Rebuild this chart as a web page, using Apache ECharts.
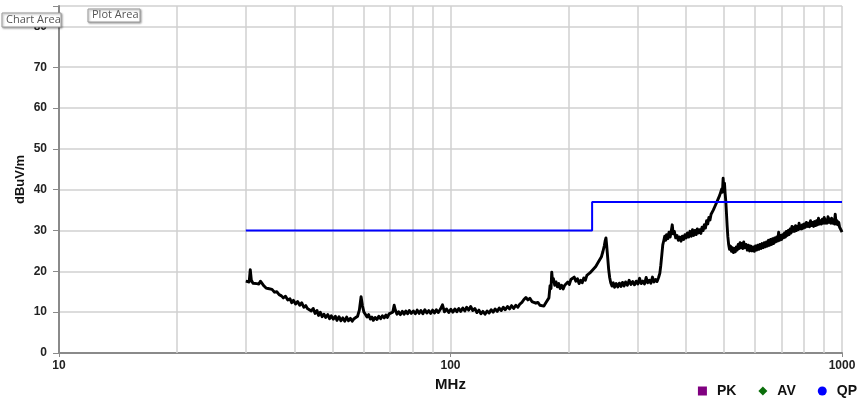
<!DOCTYPE html>
<html>
<head>
<meta charset="utf-8">
<script src="https://cdn.jsdelivr.net/npm/echarts@6/dist/echarts.min.js"></script>
<style>html,body{margin:0;padding:0;background:#fff}#c{width:866px;height:402px}</style>
</head>
<body>
<div id="c"></div>
<script>
// ---- data ----
const xTicks = [10, 100, 1000];
const minorGrid = [20,30,40,50,60,70,80,90,200,300,400,500,600,700,800,900];
const yTicks = [0,10,20,30,40,50,60,70,80];
const limitFreq = [30, 230, 230, 1000];
const limitLevel = [30, 30, 37, 37];
const traceFreq = [
30.0,30.3,30.6,30.8,31.0,31.3,31.6,32.0,32.4,32.7,33.0,33.4,33.8,34.2,34.6,35.0,35.5,36.0,36.5,37.0,
37.4,37.9,38.4,38.9,39.3,39.7,40.2,40.7,41.2,41.7,42.2,42.7,43.1,43.6,44.1,44.6,45.1,45.6,46.0,46.5,
47.0,47.5,48.0,48.6,49.1,49.6,50.2,50.8,51.3,51.9,52.5,53.1,53.7,54.3,54.9,55.5,56.1,56.7,57.3,57.9,
58.5,59.1,59.6,60.1,60.6,61.2,61.8,62.4,63.0,63.5,64.2,64.9,65.6,66.3,67.0,67.7,68.4,69.0,69.7,70.4,
71.2,71.8,72.3,73.0,73.7,74.5,75.3,76.1,76.9,77.7,78.5,79.4,80.4,81.3,82.2,83.1,84.0,85.0,86.0,87.0,
88.0,89.0,90.0,91.0,92.0,93.0,94.2,95.4,96.5,97.7,99.0,100.2,101.4,102.6,103.8,105.0,106.2,107.5,108.8,110.0,
111.3,112.6,114.0,115.4,116.8,118.2,119.6,121.0,122.5,124.0,125.5,127.0,128.5,130.0,131.6,133.2,134.8,136.4,138.0,139.8,
141.5,143.2,145.0,146.8,148.6,150.4,152.2,154.0,155.8,157.6,159.5,161.4,163.3,165.2,167.2,169.2,171.2,173.2,175.2,177.2,
178.4,179.6,180.6,181.4,182.2,183.2,184.6,186.0,187.5,189.0,190.6,192.2,194.0,195.8,197.6,199.4,201.2,203.0,205.0,207.0,
209.0,211.0,213.0,215.0,217.0,219.0,221.0,223.0,225.0,227.0,229.0,231.0,233.0,235.0,237.0,239.0,241.0,243.0,245.0,247.0,
248.5,249.5,250.5,252.0,253.5,255.0,256.6,258.5,260.5,262.5,265.0,267.5,270.0,272.5,275.0,277.5,280.0,283.0,286.0,289.0,
292.0,295.0,298.0,301.0,304.0,307.0,310.0,313.0,316.0,319.0,322.0,325.0,328.0,331.0,334.0,337.0,340.0,342.5,344.5,346.5,
348.5,350.5,352.5,354.5,356.5,359.0,361.5,364.0,366.5,368.5,370.5,373.0,376.0,379.0,382.0,385.0,388.0,391.0,394.0,397.0,
400.0,403.0,406.0,409.0,412.0,415.0,418.0,421.0,424.0,427.0,430.0,433.0,436.0,439.0,442.0,445.0,448.0,451.0,454.0,457.0,
460.0,463.0,466.0,469.0,472.0,475.0,478.0,481.0,484.0,487.0,490.0,493.0,495.0,497.0,499.0,501.0,503.0,505.0,507.0,509.0,
511.0,513.5,516.0,519.0,522.0,525.0,528.0,531.0,534.0,537.0,540.0,543.0,546.0,549.0,552.0,555.0,558.0,561.0,565.0,569.0,
573.0,577.0,581.0,585.0,589.0,593.0,597.0,601.0,605.0,609.0,613.0,617.0,621.0,625.0,629.0,633.0,637.0,641.0,645.0,649.0,
653.0,657.0,661.0,665.0,669.0,673.0,677.0,681.0,685.0,689.0,693.0,697.0,701.0,705.0,709.0,713.0,717.0,721.0,725.0,729.0,
733.0,737.0,741.0,745.0,749.0,753.0,757.0,761.0,765.0,769.0,773.0,777.0,781.0,785.0,789.0,793.0,797.0,801.0,806.0,811.0,
816.0,821.0,826.0,831.0,836.0,841.0,846.0,851.0,856.0,861.0,866.0,871.0,876.0,881.0,886.0,891.0,896.0,901.0,906.0,911.0,
916.0,921.0,926.0,931.0,936.0,941.0,946.0,951.0,956.0,961.0,966.0,971.0,976.0,981.0,986.0,991.0,996.0,1000.0
];
const traceLevel = [
17.6,17.9,17.4,20.4,17.8,17.1,16.8,17.0,16.9,17.6,17.2,16.4,15.9,15.8,15.4,15.6,14.9,15.0,14.3,14.0,
13.5,13.9,13.0,13.3,12.3,12.9,12.0,12.6,11.7,12.3,11.2,11.6,10.9,11.3,10.3,10.9,9.7,10.4,9.2,10.0,
8.9,9.5,8.7,9.4,8.4,9.1,8.3,9.0,8.0,8.9,7.9,8.6,7.8,8.8,7.9,8.5,7.8,8.4,8.2,9.0,
10.5,13.8,11.5,10.0,9.5,8.8,9.4,8.3,8.8,8.0,8.7,8.2,9.0,8.4,9.1,8.6,9.3,8.7,9.6,9.2,
10.0,11.7,10.5,9.5,10.1,9.4,10.2,9.5,10.3,9.6,10.4,9.7,10.3,9.6,10.5,9.7,10.4,9.6,10.6,9.8,
10.4,9.7,10.5,9.8,10.6,9.9,10.7,11.8,10.1,10.8,9.9,10.7,10.0,10.8,10.1,10.9,10.2,11.0,10.3,11.2,
10.5,11.4,10.4,10.9,9.9,10.5,9.6,10.2,9.5,10.3,9.8,10.6,10.0,10.8,10.2,11.0,10.4,11.2,10.6,11.4,
10.8,11.6,10.9,11.7,11.2,12.0,12.4,13.1,13.6,13.0,13.4,12.6,13.0,12.2,12.4,11.7,12.1,11.5,12.3,12.6,
13.5,16.5,15.8,19.8,17.6,18.2,16.6,17.4,16.2,17.0,15.8,16.6,15.7,16.6,16.2,17.4,16.8,18.0,17.6,18.6,
17.6,18.2,17.0,17.8,17.2,18.4,17.8,19.0,18.6,19.6,19.2,20.4,20.0,21.2,21.0,22.4,22.2,23.6,24.8,26.2,
27.6,28.2,26.5,23.5,20.5,18.5,17.2,16.4,17.2,16.1,17.0,16.2,17.1,16.3,17.3,16.4,17.4,16.6,17.8,16.8,
17.5,16.7,17.6,16.9,18.3,17.0,17.6,16.9,18.5,17.2,17.8,17.1,18.6,17.4,18.0,17.5,18.5,19.5,21.5,24.0,
26.5,27.5,28.6,27.6,29.0,28.0,29.6,28.4,30.0,31.4,29.2,29.8,28.2,28.8,27.6,28.4,27.4,28.6,27.8,29.0,
28.2,29.4,28.4,29.8,28.6,30.2,28.8,30.0,29.0,30.4,29.4,30.2,29.3,30.8,30.0,31.4,30.6,32.4,31.6,33.2,
32.6,34.0,33.6,35.0,34.6,36.2,35.8,37.4,37.0,38.6,38.2,40.2,39.4,42.8,40.4,41.6,39.0,37.0,34.0,31.0,
28.5,26.5,25.4,26.2,24.9,25.8,24.6,25.6,24.8,26.0,25.2,26.6,25.6,27.0,25.8,26.8,25.6,27.2,25.8,26.6,
25.2,26.4,25.0,26.2,25.0,26.0,24.9,26.2,25.2,26.4,25.4,26.6,25.6,26.8,25.8,27.0,26.0,27.2,26.2,27.6,
26.4,27.8,26.6,28.0,26.8,28.2,27.2,28.4,27.4,29.6,27.6,28.8,27.8,29.0,28.2,29.4,28.4,29.8,28.8,30.0,
29.0,30.4,29.4,31.0,29.8,30.8,29.8,31.2,30.0,31.0,30.2,31.8,30.4,31.2,30.4,31.4,30.6,31.6,30.8,32.0,
31.0,31.8,30.9,32.4,31.2,32.0,31.0,32.2,31.2,32.4,31.4,33.0,31.6,32.4,31.6,32.8,31.8,33.2,31.8,32.6,
31.8,33.4,32.0,32.8,31.8,33.0,31.8,32.6,31.6,34.0,31.6,32.4,31.4,32.0,30.8,31.2,30.0,29.6
];
const legendNames = ['PK', 'AV', 'QP'];
const legendIcons = ['rect', 'diamond', 'circle'];
const legendColors = ['#800080', '#0a6e0a', '#0000ff'];

// ---- chart ----
const chart = echarts.init(document.getElementById('c'), null, {renderer: 'canvas'});
const trace = traceFreq.map((f, i) => [f, traceLevel[i]]);
const limit = limitFreq.map((f, i) => [f, limitLevel[i]]);
const lblFont = {fontFamily: 'Liberation Sans, Arial, sans-serif', fontWeight: 'bold', fontSize: 12, color: '#222'};

const option = {
  animation: false,
  backgroundColor: '#fff',
  grid: {left: 59, right: 24, top: 6, bottom: 49, containLabel: false},
  legend: {
    right: 4, top: 379, itemWidth: 9, itemHeight: 9, itemGap: 22,
    textStyle: {fontFamily: 'Liberation Sans, Arial, sans-serif', fontWeight: 'bold', fontSize: 14, color: '#111', padding: [0, 0, 0, 5]},
    data: legendNames.map((n, i) => ({name: n, icon: legendIcons[i]})),
    selectedMode: false
  },
  xAxis: {
    type: 'log', logBase: 10, min: 10, max: 1000,
    name: 'MHz', nameLocation: 'middle', nameGap: 21,
    nameTextStyle: {fontFamily: 'Liberation Sans, Arial, sans-serif', fontWeight: 'bold', fontSize: 15, color: '#111'},
    axisLine: {show: true, lineStyle: {color: '#8a8a8a', width: 2}},
    axisTick: {show: true, length: 4, lineStyle: {color: '#8a8a8a'}},
    axisLabel: Object.assign({margin: 7, formatter: v => { const r = Math.round(v); return xTicks.indexOf(r) >= 0 ? String(r) : ''; }}, lblFont),
    splitLine: {show: true, lineStyle: {color: '#d0d0d0', width: 1.5}},
    minorTick: {show: false}
  },
  yAxis: {
    type: 'value', min: 0, max: 85, interval: 10,
    name: 'dBuV/m', nameLocation: 'middle', nameGap: 32, nameRotate: 90, nameMoveOverlap: false,
    nameTextStyle: {fontFamily: 'Liberation Sans, Arial, sans-serif', fontWeight: 'bold', fontSize: 13, color: '#111'},
    axisLine: {show: true, lineStyle: {color: '#8a8a8a', width: 2}},
    axisTick: {show: true, length: 6, lineStyle: {color: '#8a8a8a'}},
    axisLabel: Object.assign({margin: 12, formatter: v => (yTicks.indexOf(v) >= 0 ? String(v) : '')}, lblFont),
    splitLine: {show: true, lineStyle: {color: '#d0d0d0', width: 1.5}}
  },
  series: [
    {
      name: 'grid', type: 'line', data: [], silent: true, z: 1,
      markLine: {
        silent: true, symbol: ['none', 'none'], z: 1, animation: false,
        label: {show: false},
        lineStyle: {color: '#d0d0d0', width: 1.5, type: 'solid'},
        data: minorGrid.map(v => ({xAxis: v}))
      }
    },
    {
      name: 'trace', type: 'line', data: trace, showSymbol: false, z: 3,
      lineStyle: {color: '#000', width: 2.9, join: 'round'}, itemStyle: {color: '#000'}
    },
    {
      name: 'limit', type: 'line', data: limit, showSymbol: false, z: 4,
      lineStyle: {color: '#0000ff', width: 2}, itemStyle: {color: '#0000ff'}
    }
  ].concat(legendNames.map((n, i) => ({
    name: n, type: 'scatter', data: [], itemStyle: {color: legendColors[i], opacity: 1}
  }))),
  graphic: [
    {type: 'rect', z: 100, shape: {x: 2, y: 13, width: 59, height: 14},
     style: {fill: '#fff', stroke: '#9a9a9a', lineWidth: 1, shadowBlur: 2, shadowOffsetX: 1, shadowOffsetY: 1, shadowColor: 'rgba(0,0,0,0.35)'}},
    {type: 'text', z: 101, x: 6, y: 14,
     style: {text: 'Chart Area', fill: '#555', font: '11px "Open Sans", "Liberation Sans", sans-serif'}},
    {type: 'rect', z: 100, shape: {x: 88, y: 9, width: 52, height: 13},
     style: {fill: '#fff', stroke: '#9a9a9a', lineWidth: 1, shadowBlur: 2, shadowOffsetX: 1, shadowOffsetY: 1, shadowColor: 'rgba(0,0,0,0.35)'}},
    {type: 'text', z: 101, x: 92, y: 9.5,
     style: {text: 'Plot Area', fill: '#555', font: '11px "Open Sans", "Liberation Sans", sans-serif'}}
  ]
};
chart.setOption(option);
</script>
</body>
</html>
